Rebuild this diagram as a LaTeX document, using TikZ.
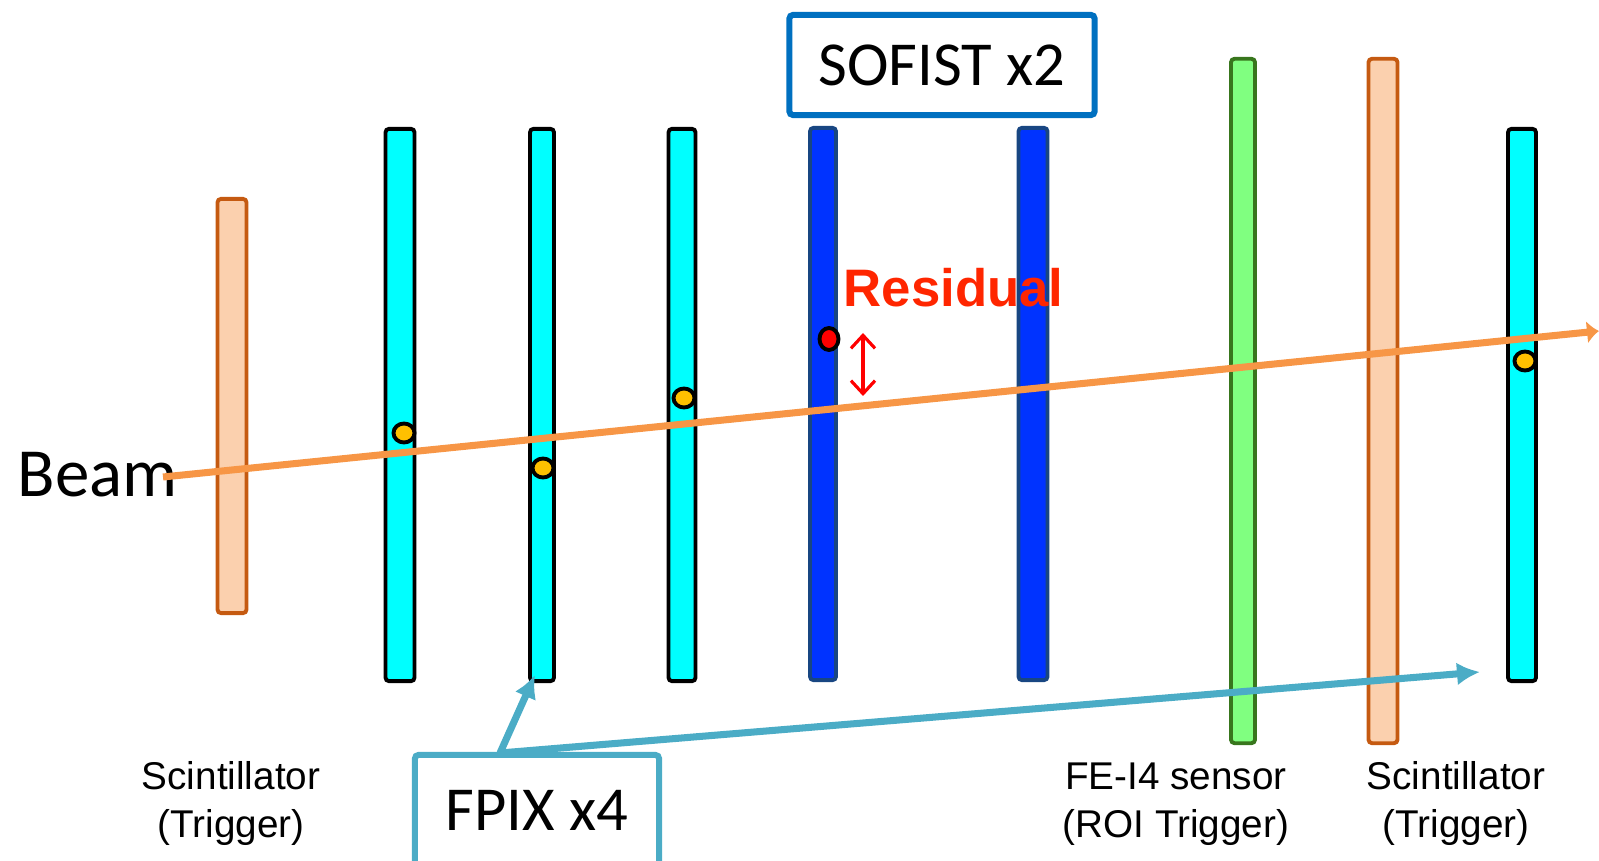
\documentclass[tikz,border=0pt]{standalone}
\usepackage{fontspec}
\setmainfont{Liberation Sans}
\newfontfamily\keyfont{Carlito}
\usetikzlibrary{calc,shapes.geometric,arrows.meta}
\definecolor{cyanfill}{RGB}{0,255,255}
\definecolor{sofistfill}{RGB}{0,51,255}
\definecolor{sofistline}{RGB}{24,70,130}
\definecolor{scintfill}{RGB}{251,208,174}
\definecolor{scintline}{RGB}{197,90,17}
\definecolor{fefill}{RGB}{128,255,128}
\definecolor{feline}{RGB}{56,118,29}
\definecolor{beamorange}{RGB}{247,150,70}
\definecolor{hityellow}{RGB}{255,192,0}
\definecolor{boxblue}{RGB}{0,112,192}
\definecolor{fpixteal}{RGB}{75,172,198}
\definecolor{resred}{RGB}{255,38,0}
\tikzset{
  plane/.style={rectangle, draw, line width=1.1pt, rounded corners=1pt, inner sep=0pt, minimum height=5.52cm},
  fpixplane/.style={plane, fill=cyanfill, draw=black},
  sofistplane/.style={plane, fill=sofistfill, draw=sofistline},
  scintplane/.style={plane, fill=scintfill, draw=scintline},
  feplane/.style={plane, fill=fefill, draw=feline},
  hit/.style={ellipse, draw=black, line width=1.1pt, fill=hityellow, inner sep=0pt, minimum width=0.21cm, minimum height=0.19cm},
  labelbox/.style={rectangle, line width=1.7pt, fill=white, rounded corners=1pt, font=\keyfont\fontsize{17.8}{21}\selectfont},
  caption/.style={align=center, anchor=base, inner sep=0pt, font=\fontsize{11}{13.9}\selectfont},
  pointer/.style={draw=fpixteal, line width=2pt, -{Latex[length=0.23cm,width=0.23cm]}}
}
\begin{document}
\begin{tikzpicture}[x=0.01cm, y=-0.01cm]
  \useasboundingbox (0,0) rectangle (1599,861);
  % planes along the beam
  \node [scintplane, minimum width=0.29cm, minimum height=4.14cm] (scintA) at (232,406) {};
  \node [fpixplane, minimum width=0.29cm] (fpixA) at (400,405) {};
  \node [fpixplane, minimum width=0.24cm] (fpixB) at (542,405) {};
  \node [fpixplane, minimum width=0.27cm] (fpixC) at (682,405) {};
  \node [sofistplane, minimum width=0.26cm] (sofistA) at (823,404) {};
  \node [sofistplane, minimum width=0.29cm] (sofistB) at (1033,404) {};
  \node [feplane, minimum width=0.24cm, minimum height=6.84cm] (fe) at (1243,401) {};
  \node [scintplane, minimum width=0.29cm, minimum height=6.84cm] (scintB) at (1383,401) {};
  \node [fpixplane, minimum width=0.28cm] (fpixD) at (1522,405) {};

  % beam
  \node [anchor=base west, inner sep=0pt, font=\keyfont\fontsize{19.6}{23}\selectfont] (beam) at (17,497) {Beam};
  \coordinate (beamstart) at (163,477);
  \coordinate (beamend) at (1599,331);
  \draw [draw=beamorange, line width=2pt, -{Latex[length=0.12cm,width=0.23cm]}] (beamstart) -- (beamend);

  % hits
  \node [hit] (hitA) at (404,433) {};
  \node [hit] (hitB) at (543,468) {};
  \node [hit] (hitC) at (684,398) {};
  \node [hit] (hitD) at (1525,361) {};
  \node [hit, fill=red, minimum width=0.19cm, minimum height=0.22cm] (hitS) at (829,339) {};

  % residual
  \coordinate (restop) at (863,333);
  \coordinate (resbot) at (863,396);
  \draw [red, line width=0.9pt, {Straight Barb[length=0.13cm,width=0.24cm]}-{Straight Barb[length=0.13cm,width=0.24cm]}] (restop) -- (resbot);
  \node [anchor=base west, inner sep=0pt, text=resred, font=\bfseries\fontsize{15}{18}\selectfont] (residual) at (843,307) {Residual};

  % boxes
  \node [labelbox, draw=boxblue, minimum width=3.05cm, minimum height=1.0cm] (sofist) at (942,65) {SOFIST x2};
  \node [labelbox, draw=fpixteal, minimum width=2.44cm, minimum height=1.1cm] (fpix) at (537,810) {FPIX x4};
  \coordinate (fork) at (500,753);
  \coordinate (fpixtipB) at (535,675);
  \coordinate (fpixtipD) at (1480,672);
  \draw [pointer] (fork) -- (fpixtipB);
  \draw [pointer] (fork) -- (fpixtipD);

  % captions
  \node [caption] (scintAlabel) at (231,838) {Scintillator\\(Trigger)};
  \node [caption] (felabel) at (1176,838) {FE-I4 sensor\\(ROI Trigger)};
  \node [caption] (scintBlabel) at (1456,838) {Scintillator\\(Trigger)};
\end{tikzpicture}
\end{document}
